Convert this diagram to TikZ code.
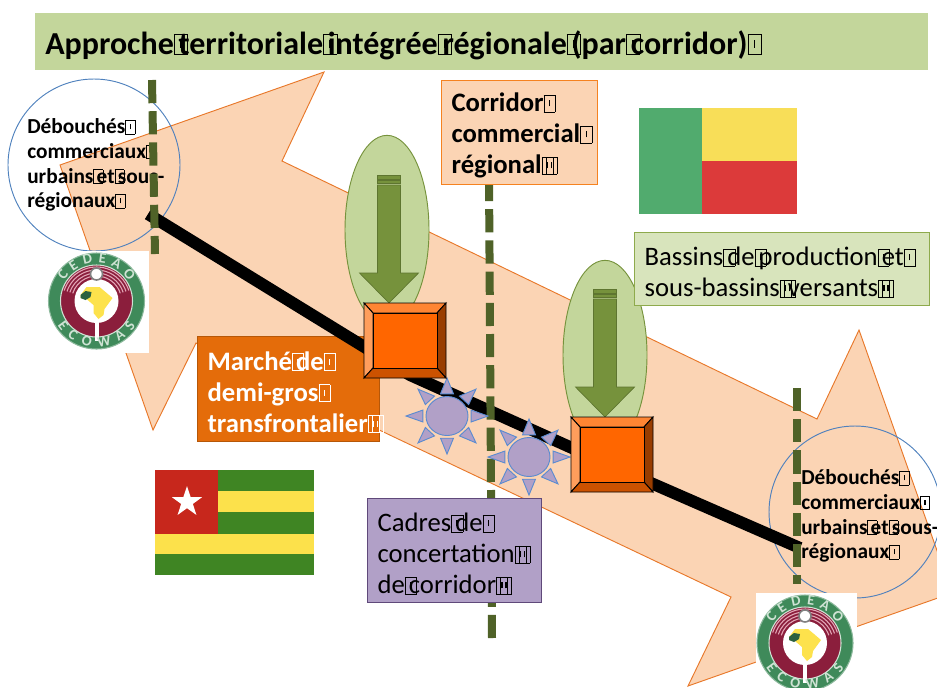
\documentclass[tikz,border=0pt]{standalone}
\usepackage{fontspec}
\setmainfont{Carlito}
\usepackage{tikz}
\usetikzlibrary{shapes.geometric}
\usetikzlibrary{decorations.text}

\definecolor{titlegreen}{HTML}{C3D69B}
\definecolor{arrowpeach}{HTML}{FBD4B4}
\definecolor{arrowedge}{HTML}{E8782A}
\definecolor{dashgreen}{HTML}{4F6228}
\definecolor{stripegreen}{HTML}{76923C}
\definecolor{circleblue}{HTML}{4F81BD}
\definecolor{sunlilac}{HTML}{B1A0C7}
\definecolor{sunedge}{HTML}{5B8BD0}
\definecolor{logogreen}{HTML}{3F8A5A}
\definecolor{logored}{HTML}{8B1E3C}
\definecolor{logopink}{HTML}{E3A6B6}
\definecolor{logotext}{HTML}{CFE3D4}
\definecolor{marchefill}{HTML}{E46C0A}
\definecolor{marcheedge}{HTML}{B65708}
\definecolor{corridoredge}{HTML}{F58220}
\definecolor{bassinfill}{HTML}{D8E4BC}
\definecolor{bassinedge}{HTML}{8EAA4C}
\definecolor{cadresedge}{HTML}{5F497A}
\definecolor{bevface}{HTML}{FF6600}
\definecolor{bevtop}{HTML}{FF8533}
\definecolor{bevleft}{HTML}{FF9E5C}
\definecolor{bevright}{HTML}{993D00}
\definecolor{bevbot}{HTML}{CC5200}
\definecolor{beningreen}{HTML}{51AB6E}
\definecolor{beninyellow}{HTML}{F8DE58}
\definecolor{beninred}{HTML}{DC3A3A}
\definecolor{togogreen}{HTML}{3F8523}
\definecolor{togoyellow}{HTML}{FCE14B}
\definecolor{togored}{HTML}{C7271C}

% missing-glyph frame printed after most words
\newcommand{\tf}{\rlap{\setlength{\fboxsep}{0pt}\setlength{\fboxrule}{.3pt}\fbox{\rule{0pt}{.62em}\kern.18em\rule[.2em]{.05em}{.24em}\kern.18em}}\kern.15em}

\tikzset{
	bigarrow/.style={draw=arrowedge, fill=arrowpeach, line width=0.7pt},
	corridorline/.style={draw=dashgreen, line width=6pt, dash pattern=on 17.4pt off 6pt},
	outletcircle/.style={circle, draw=circleblue, line width=0.7pt, minimum size=129pt, inner sep=0pt},
	outlettext/.style={anchor=west, align=left, inner sep=0pt, font={\fontsize{16}{18.5}\selectfont\bfseries}},
	labelbox/.style={anchor=north west, align=left, inner xsep=7.5pt, inner ysep=0pt, line width=0.9pt, font={\fontsize{20}{23.25}\selectfont}, execute at begin node={\rule{0pt}{18.6pt}}},
	basin/.style={ellipse, draw=stripegreen, fill=titlegreen, line width=0.7pt, minimum width=63pt, minimum height=142pt, inner sep=0pt},
	sunray/.style={draw=sunedge, fill=sunlilac, line width=0.7pt},
	ecowaslogo/.pic={
		\fill[white] (-49,-50) rectangle (52,52);
		\draw[draw=logogreen!60!white, fill=logogreen, line width=0.8pt] (0,0) circle (48);
		\draw[draw=logotext, fill=logored, line width=0.8pt] (0,0) circle (36);
		\foreach \r in {25,28,31,34}
			\draw[logopink, line width=0.8pt] (198:\r) arc[start angle=198, end angle=342, radius=\r];
		\fill[white] (0,0) circle (22);
		\fill[white] (-2,16) rectangle (2,40);
		\draw[gray, fill=white, line width=1.2pt] (0,-27) circle (6);
		\fill[yellow!75!orange!70!white] (-16,-6) -- (-10,-14) -- (3,-14) -- (9,-9) -- (16,-3) -- (8,8) -- (7,14) -- (2,18) -- (-3,12) -- (-3,4) -- (-10,-2) -- (-16,-3) -- cycle;
		\fill[logogreen!70!black] (-16,-6) -- (-11,-10) -- (-5,-9) -- (-6,-4) -- (-11,-1) -- (-16,-3) -- cycle;
		\path[decorate, decoration={text along path, text align=fit to path, text={|\fontsize{11}{11}\selectfont\bfseries\color{logotext}|CEDEAO}}] (212:38) arc[start angle=212, end angle=328, radius=38];
		\path[decorate, decoration={text along path, text align=fit to path, text={|\fontsize{11}{11}\selectfont\bfseries\color{logotext}|ECOWAS}}] (148:46) arc[start angle=148, end angle=32, radius=46];
	}
}

\begin{document}
\begin{tikzpicture}[x=0.75pt, y=-0.75pt]
	\clip (0,0) rectangle (937,687);
	% Title and the long arrow:
	\node[anchor=north west, fill=titlegreen, minimum width=669.75pt, minimum height=42.75pt, text width=654.75pt, inner xsep=7.5pt, inner ysep=0pt, align=left, font={\fontsize{24}{27}\selectfont\bfseries}, execute at begin node={\rule{0pt}{22.7pt}}] (title) at (35,13) {Approche\tf territoriale\tf intégrée\tf régionale\tf (par\tf corridor)\tf};
	\draw[bigarrow] (60,165) -- (324,72) -- (282,161) -- (817,419) -- (859,330) -- (952,593) -- (688,686) -- (731,597) -- (196,343) -- (153,430) -- cycle;
	\node[labelbox, fill=marchefill, draw=marcheedge, text=white, minimum width=136.5pt, minimum height=78.75pt, text width=121.5pt, font={\fontsize{20}{23.25}\selectfont\bfseries}] (marche) at (197,336) {Marché\tf de\tf\\demi-gros\tf\\transfrontalier\tf\tf};

	% Outlets at both ends:
	\node[outletcircle] (outletw) at (94,165) {};
	\node[outlettext] (outletwtext) at (27,165) {Débouchés\tf\\commerciaux\tf\\urbains\tf et\tf sous-\\régionaux\tf};
	\node[outletcircle] (outlete) at (855,512) {};
	\node[outlettext] (outletetext) at (801,516) {Débouchés\tf\\commerciaux\tf\\urbains\tf et\tf sous-\\régionaux\tf};
	\pic at (96.5,301) {ecowaslogo};
	\pic at (805,643) {ecowaslogo};

	% Road and corridor lines:
	\coordinate (roadw) at (148,214);
	\coordinate (roadm) at (410,375);
	\coordinate (roadn) at (612,466);
	\coordinate (roade) at (800,548);
	\draw[line width=9pt] (roadw) -- (roadm) -- (roadn) -- (roade);
	\coordinate (linewtop) at (152,80);
	\coordinate (linewbot) at (155,254);
	\coordinate (linemtop) at (489,178);
	\coordinate (linembot) at (492,639);
	\coordinate (linetop) at (797,388);
	\coordinate (linebot) at (797,584);
	\draw[corridorline] (linewtop) -- (linewbot);
	\draw[corridorline] (linemtop) -- (linembot);
	\draw[corridorline] (linetop) -- (linebot);

	% Suns:
	\foreach \sx/\sy in {447/416, 529/457}{
		\begin{scope}[shift={(\sx,\sy)}]
			\draw[sunray] (0,0) ellipse [x radius=21, y radius=19.5];
			\foreach \a in {0,45,...,315}
				\draw[sunray] (\a:41 and 38) -- (\a-15:25 and 23) -- (\a+15:25 and 23) -- cycle;
		\end{scope}
	}

	% Basins with their arrows and markets:
	\node[basin] (basina) at (387,230) {};
	\node[basin] (basinb) at (605,355) {};
	\foreach \px/\py in {389/175, 605/289}{
		\begin{scope}[shift={(\px,\py)}, draw=stripegreen!80!black, fill=stripegreen, line width=0.5pt]
			\filldraw (-11.5,0) rectangle (11.5,4);
			\filldraw (-11.5,5.5) rectangle (11.5,8.5);
			\filldraw (-11.5,10) -- (11.5,10) -- (11.5,98) -- (29.5,98) -- (0,128) -- (-29.5,98) -- (-11.5,98) -- cycle;
		\end{scope}
	}
	\foreach \bx/\by in {364/303, 571/417}{
		\begin{scope}[shift={(\bx,\by)}, draw=black, line width=0.7pt]
			\filldraw[fill=bevtop] (0,0) -- (82,0) -- (73,10) -- (9,10) -- cycle;
			\filldraw[fill=bevleft] (0,0) -- (9,10) -- (9,65) -- (0,75) -- cycle;
			\filldraw[fill=bevright] (82,0) -- (82,75) -- (73,65) -- (73,10) -- cycle;
			\filldraw[fill=bevbot] (0,75) -- (9,65) -- (73,65) -- (82,75) -- cycle;
			\filldraw[fill=bevface] (9,10) rectangle (73,65);
		\end{scope}
	}

	% Label boxes:
	\node[labelbox, fill=arrowpeach, draw=corridoredge, minimum width=117pt, minimum height=78pt, text width=102pt, font={\fontsize{20}{23.25}\selectfont\bfseries}] (corridor) at (441,80) {Corridor\tf\\commercial\tf\\régional\tf\tf};
	\node[labelbox, fill=bassinfill, draw=bassinedge, minimum width=221.25pt, minimum height=54.75pt, text width=206.25pt] (bassins) at (634,232) {Bassins\tf de\tf production\tf et\tf\\sous-bassins\tf\tf versants\tf\tf};
	\node[labelbox, fill=sunlilac, draw=cadresedge, minimum width=130.5pt, minimum height=78pt, text width=115.5pt] (cadres) at (367,498) {Cadres\tf de\tf\\concertation\tf\tf\\de\tf corridor\tf\tf};

	% Flags:
	\fill[beningreen] (639,108) rectangle (702,214);
	\fill[beninyellow] (702,108) rectangle (797,161);
	\fill[beninred] (702,161) rectangle (797,214);
	\fill[togogreen] (155,470) rectangle (314,575);
	\fill[togoyellow] (218,491) rectangle (314,512);
	\fill[togoyellow] (155,534) rectangle (314,554);
	\fill[togored] (155,470) rectangle (218,534);
	\node[star, star points=5, star point ratio=2.6, fill=white, minimum size=24pt, inner sep=0pt] (togostar) at (187,502) {};
\end{tikzpicture}
\end{document}
